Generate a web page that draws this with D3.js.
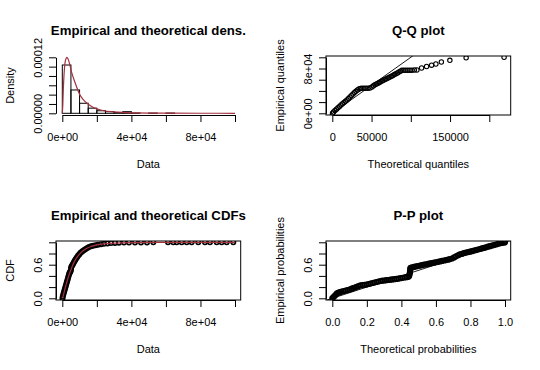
<!DOCTYPE html>
<html>
<head>
<meta charset="utf-8">
<script src="https://cdn.jsdelivr.net/npm/d3@7"></script>
<style>
  body { margin: 0; background: #fff; }
  svg { display: block; font-family: "Liberation Sans", Arial, sans-serif; }
</style>
</head>
<body>
<div id="chart"></div>
<script>
// histogram (density scale), breaks every 5000
const histBreaks = [0, 5000, 10000, 15000, 20000, 25000, 30000, 35000, 40000, 45000, 50000, 55000, 60000, 65000];
const histDensity = [1.035e-4, 5.0e-5, 2.15e-5, 1.1e-5, 5.5e-6, 3.5e-6, 1.5e-6, 3.5e-6, 0.5e-6, 0, 0.5e-6, 0, 0.5e-6];

// fitted density curve
const densX = [0, 290, 580, 985, 1565, 2145, 2550, 3300, 4300, 5460, 7360, 10270, 12000, 14160, 17000, 19950, 24000, 29500, 35000, 42000, 50000, 62000, 80000, 100000];
const densY = [0, 1.8e-5, 5e-5, 8.2e-5, 1.08e-4, 1.17e-4, 1.2e-4, 1.17e-4, 1.05e-4, 8.7e-5, 6.6e-5, 3.9e-5, 3.0e-5, 2.2e-5, 1.45e-5, 9.5e-6, 5.5e-6, 3.2e-6, 1.8e-6, 1e-6, 5e-7, 2.5e-7, 1e-7, 4e-8];

// Q-Q plot
const qqTheo = [300, 1530, 3440, 5340, 7250, 9160, 11070, 12980, 14890, 16790, 18700, 20610, 22520, 24430, 26340, 28250, 30150, 32060, 33970, 35880,
  37790, 40330, 42880, 45420, 47970, 50510, 52420, 54330, 56240, 58140, 60050, 61960, 63870, 65780, 67690, 69600, 71500, 73410, 75320, 77230,
  79140, 81050, 82950, 84860, 86770, 88680, 91220, 93770, 96310, 98860, 101400, 104580, 107760, 113740, 120100, 126470, 131940, 138940, 149750, 170490, 218840];
const qqEmp = [200, 2320, 4820, 7320, 9820, 12140, 14820, 16960, 19110, 21430, 23750, 26250, 29110, 31790, 34460, 36960, 39290, 41610, 43390, 44290,
  44640, 44640, 44640, 44820, 45180, 46960, 49110, 50890, 52320, 53750, 55000, 56610, 58040, 59460, 60710, 62140, 63390, 64820, 66070, 67500,
  69110, 70540, 71960, 73750, 75180, 76790, 76790, 76790, 76960, 76960, 76960, 77320, 77320, 80890, 83570, 85890, 88040, 91610, 94640, 99110, 100000];

// empirical CDF points
const cdfData = [100, 290, 580, 870, 1160, 1450, 1740, 2030, 2320, 2610, 2900, 3190, 3470, 3760, 4050, 4340, 4630, 4920, 5040, 5150,
  5390, 5790, 6200, 6660, 7120, 7590, 8110, 8630, 9210, 9790, 10420, 11120, 11870, 12680, 13550, 14480, 15460, 16620, 17780, 19220,
  20670, 22410, 24140, 26170, 28200, 30510, 32830, 35720, 38620, 42090, 45570, 49040, 52690,
  61200, 64270, 66240, 69130, 72030, 74920, 78740, 82620, 85520, 89400, 92290, 95190, 99010];
const cdfProb = [0, 0.032, 0.068, 0.1, 0.132, 0.163, 0.193, 0.225, 0.255, 0.286, 0.318, 0.35, 0.38, 0.413, 0.443, 0.461, 0.473, 0.496, 0.523, 0.55,
  0.571, 0.591, 0.613, 0.639, 0.666, 0.689, 0.714, 0.739, 0.763, 0.784, 0.807, 0.827, 0.846, 0.864, 0.882, 0.898, 0.914, 0.929, 0.939, 0.948,
  0.957, 0.966, 0.973, 0.98, 0.986, 0.989, 0.993, 0.995, 0.996, 0.997, 0.998, 0.998, 0.999,
  0.999, 0.999, 0.999, 0.9993, 0.9993, 0.9995, 0.9995, 0.9996, 0.9997, 0.9998, 0.9998, 0.9999, 1.0];

// fitted CDF curve
const cdfCurveX = [0, 500, 1000, 1500, 2000, 3000, 4000, 5000, 6000, 7000, 8000, 9000, 10000, 12000, 14000, 17000, 20000, 25000, 30000, 40000, 55000, 75000, 100000];
const cdfCurveP = [0, 0.04, 0.1, 0.165, 0.22, 0.33, 0.43, 0.51, 0.59, 0.655, 0.71, 0.755, 0.79, 0.85, 0.89, 0.93, 0.955, 0.975, 0.987, 0.995, 0.998, 0.9993, 0.9997];

// P-P plot
const ppTheo = [0, 0.007, 0.014, 0.021, 0.027, 0.036, 0.045, 0.054, 0.066, 0.077, 0.089, 0.1, 0.11, 0.12, 0.131, 0.141, 0.152, 0.163, 0.175, 0.186,
  0.198, 0.21, 0.221, 0.233, 0.244, 0.256, 0.267, 0.279, 0.29, 0.302, 0.313, 0.325, 0.337, 0.348, 0.36, 0.372, 0.383, 0.395, 0.406, 0.418,
  0.43, 0.441, 0.445, 0.447, 0.449, 0.45, 0.451, 0.452, 0.453, 0.462, 0.473, 0.485, 0.496, 0.508, 0.519, 0.531, 0.543, 0.554, 0.566, 0.577,
  0.589, 0.6, 0.612, 0.624, 0.635, 0.647, 0.658, 0.67, 0.681, 0.693, 0.705, 0.716, 0.728, 0.739, 0.751, 0.762, 0.774, 0.786, 0.797, 0.809,
  0.82, 0.832, 0.843, 0.855, 0.866, 0.878, 0.89, 0.901, 0.913, 0.924, 0.936, 0.948, 0.959, 0.971, 0.982, 0.994, 1.0];
const ppEmp = [0, 0.022, 0.045, 0.068, 0.088, 0.1, 0.11, 0.12, 0.129, 0.138, 0.147, 0.155, 0.167, 0.18, 0.193, 0.205, 0.219, 0.232, 0.237, 0.241,
  0.246, 0.255, 0.264, 0.273, 0.282, 0.291, 0.3, 0.309, 0.314, 0.318, 0.323, 0.327, 0.332, 0.337, 0.341, 0.346, 0.352, 0.359, 0.365, 0.371,
  0.377, 0.384, 0.4, 0.425, 0.45, 0.475, 0.5, 0.525, 0.545, 0.552, 0.561, 0.57, 0.577, 0.585, 0.592, 0.6, 0.607, 0.614, 0.622, 0.629,
  0.637, 0.644, 0.652, 0.659, 0.667, 0.675, 0.682, 0.69, 0.7, 0.711, 0.73, 0.749, 0.768, 0.786, 0.795, 0.805, 0.814, 0.823, 0.833, 0.842,
  0.852, 0.861, 0.87, 0.88, 0.89, 0.9, 0.911, 0.921, 0.931, 0.941, 0.951, 0.961, 0.972, 0.982, 0.989, 0.996, 1.0];

// axis ticks (empty label = hidden by R's overlap rule)
const dataTicks = [0, 20000, 40000, 60000, 80000, 100000];
const dataTickLabels = ['0e+00', '', '4e+04', '', '8e+04', ''];
const densTicks = [0, 2e-5, 4e-5, 6e-5, 8e-5, 1e-4, 1.2e-4];
const densTickLabels = ['0.00000', '', '', '', '', '', '0.00012'];
const qqXTicks = [0, 50000, 100000, 150000, 200000];
const qqXTickLabels = ['0', '50000', '', '150000', ''];
const qqYTicks = [0, 20000, 40000, 60000, 80000, 100000];
const qqYTickLabels = ['0e+00', '', '', '', '8e+04', ''];
const probTicks = [0, 0.2, 0.4, 0.6, 0.8, 1.0];
const probYTickLabels = ['0.0', '', '', '0.6', '', ''];
const probXTickLabels = ['0.0', '0.2', '0.4', '0.6', '0.8', '1.0'];

const width = 540, height = 370;
const box = { left: 56, right: 240.7, top: 56, bottom: 115 };
const fitColor = '#a3323f';

const svg = d3.select('#chart').append('svg')
  .attr('width', width)
  .attr('height', height);

function panel(ox, oy, title, xLab, yLab) {
  const g = svg.append('g').attr('transform', `translate(${ox},${oy})`);
  const cx = (box.left + box.right) / 2, cy = (box.top + box.bottom) / 2;
  g.append('text')
    .attr('x', cx).attr('y', 34.5)
    .attr('text-anchor', 'middle')
    .style('font-size', '13.2px').style('font-weight', 'bold')
    .text(title);
  g.append('text')
    .attr('x', cx).attr('y', 167.5)
    .attr('text-anchor', 'middle')
    .style('font-size', '11px')
    .text(xLab);
  g.append('text')
    .attr('transform', `translate(13.5,${cy}) rotate(-90)`)
    .attr('text-anchor', 'middle')
    .style('font-size', '11px')
    .text(yLab);
  return g;
}

function drawBox(g, id) {
  g.append('rect')
    .attr('x', box.left).attr('y', box.top)
    .attr('width', box.right - box.left).attr('height', box.bottom - box.top)
    .attr('fill', 'none').attr('stroke', '#000').attr('stroke-width', 1);
  g.append('clipPath').attr('id', id)
    .append('rect')
    .attr('x', box.left).attr('y', box.top)
    .attr('width', box.right - box.left).attr('height', box.bottom - box.top);
}

function xAxis(g, x, ticks, labels) {
  const a = g.append('g')
    .attr('transform', `translate(0,${box.bottom})`)
    .call(d3.axisBottom(x).tickValues(ticks).tickFormat((d, i) => labels[i])
      .tickSize(7).tickSizeOuter(0).tickPadding(11));
  a.selectAll('text').style('font-size', '11px').style('font-family', 'inherit').attr('fill', '#000');
  a.selectAll('line, path').attr('stroke', '#000');
}

function yAxis(g, y, ticks, labels) {
  const a = g.append('g')
    .attr('transform', `translate(${box.left},0)`)
    .call(d3.axisLeft(y).tickValues(ticks).tickFormat((d, i) => labels[i])
      .tickSize(7).tickSizeOuter(0));
  a.selectAll('text')
    .attr('x', 0).attr('y', -14).attr('dy', 0)
    .attr('transform', 'rotate(-90)')
    .attr('text-anchor', 'middle')
    .attr('fill', '#000')
    .style('font-size', '11px').style('font-family', 'inherit');
  a.selectAll('line, path').attr('stroke', '#000');
}

function points(g, x, y, xs, ys, clip, sw) {
  g.append('g').attr('clip-path', `url(#${clip})`)
    .selectAll('circle')
    .data(xs)
    .enter().append('circle')
    .attr('cx', (d, i) => x(d))
    .attr('cy', (d, i) => y(ys[i]))
    .attr('r', 2.2)
    .attr('fill', 'none')
    .attr('stroke', '#000')
    .attr('stroke-width', sw);
}

// ---- density panel ----
{
  const g = panel(0, 0, 'Empirical and theoretical dens.', 'Data', 'Density');
  const x = d3.scaleLinear().domain([0, 100000]).range([62.3, 235]);
  const y = d3.scaleLinear().domain([0, 1.2e-4]).range([113.3, 57.3]);

  g.selectAll('rect.bar')
    .data(histDensity)
    .enter().append('rect')
    .attr('class', 'bar')
    .attr('x', (d, i) => x(histBreaks[i]))
    .attr('width', (d, i) => x(histBreaks[i + 1]) - x(histBreaks[i]))
    .attr('y', d => y(d))
    .attr('height', d => y(0) - y(d))
    .attr('fill', 'none')
    .attr('stroke', '#000')
    .attr('stroke-width', 1);

  const line = d3.line().x(d => x(d)).y((d, i) => y(densY[i])).curve(d3.curveMonotoneX);
  g.append('path')
    .datum(densX)
    .attr('fill', 'none')
    .attr('stroke', fitColor)
    .attr('stroke-width', 1.2)
    .attr('d', line);

  xAxis(g, x, dataTicks, dataTickLabels);
  yAxis(g, y, densTicks, densTickLabels);
}

// ---- Q-Q panel ----
{
  const g = panel(270, 0, 'Q-Q plot', 'Theoretical quantiles', 'Empirical quantiles');
  const x = d3.scaleLinear().domain([0, 200000]).range([62.3, 219.3]);
  const y = d3.scaleLinear().domain([0, 100000]).range([113.3, 57.3]);
  drawBox(g, 'clip-qq');
  points(g, x, y, qqTheo, qqEmp, 'clip-qq', 1.1);
  g.append('line')
    .attr('clip-path', 'url(#clip-qq)')
    .attr('x1', x(-20000)).attr('y1', y(-20000))
    .attr('x2', x(150000)).attr('y2', y(150000))
    .attr('stroke', '#000').attr('stroke-width', 0.9);
  xAxis(g, x, qqXTicks, qqXTickLabels);
  yAxis(g, y, qqYTicks, qqYTickLabels);
}

// ---- CDF panel ----
{
  const g = panel(0, 185, 'Empirical and theoretical CDFs', 'Data', 'CDF');
  const x = d3.scaleLinear().domain([0, 100000]).range([62.3, 235]);
  const y = d3.scaleLinear().domain([0, 1]).range([113.3, 57.3]);
  drawBox(g, 'clip-cdf');
  points(g, x, y, cdfData, cdfProb, 'clip-cdf', 1.6);
  const line = d3.line().x(d => x(d)).y((d, i) => y(cdfCurveP[i])).curve(d3.curveMonotoneX);
  g.append('path')
    .datum(cdfCurveX)
    .attr('clip-path', 'url(#clip-cdf)')
    .attr('fill', 'none')
    .attr('stroke', fitColor)
    .attr('stroke-width', 1.2)
    .attr('d', line);
  xAxis(g, x, dataTicks, dataTickLabels);
  yAxis(g, y, probTicks, probYTickLabels);
}

// ---- P-P panel ----
{
  const g = panel(270, 185, 'P-P plot', 'Theoretical probabilities', 'Empirical probabilities');
  const x = d3.scaleLinear().domain([0, 1]).range([62.3, 235]);
  const y = d3.scaleLinear().domain([0, 1]).range([113.3, 57.3]);
  drawBox(g, 'clip-pp');
  points(g, x, y, ppTheo, ppEmp, 'clip-pp', 1.8);
  g.append('line')
    .attr('clip-path', 'url(#clip-pp)')
    .attr('x1', x(-0.1)).attr('y1', y(-0.1))
    .attr('x2', x(1.1)).attr('y2', y(1.1))
    .attr('stroke', '#000').attr('stroke-width', 0.9);
  xAxis(g, x, probTicks, probXTickLabels);
  yAxis(g, y, probTicks, probYTickLabels);
}
</script>
</body>
</html>
